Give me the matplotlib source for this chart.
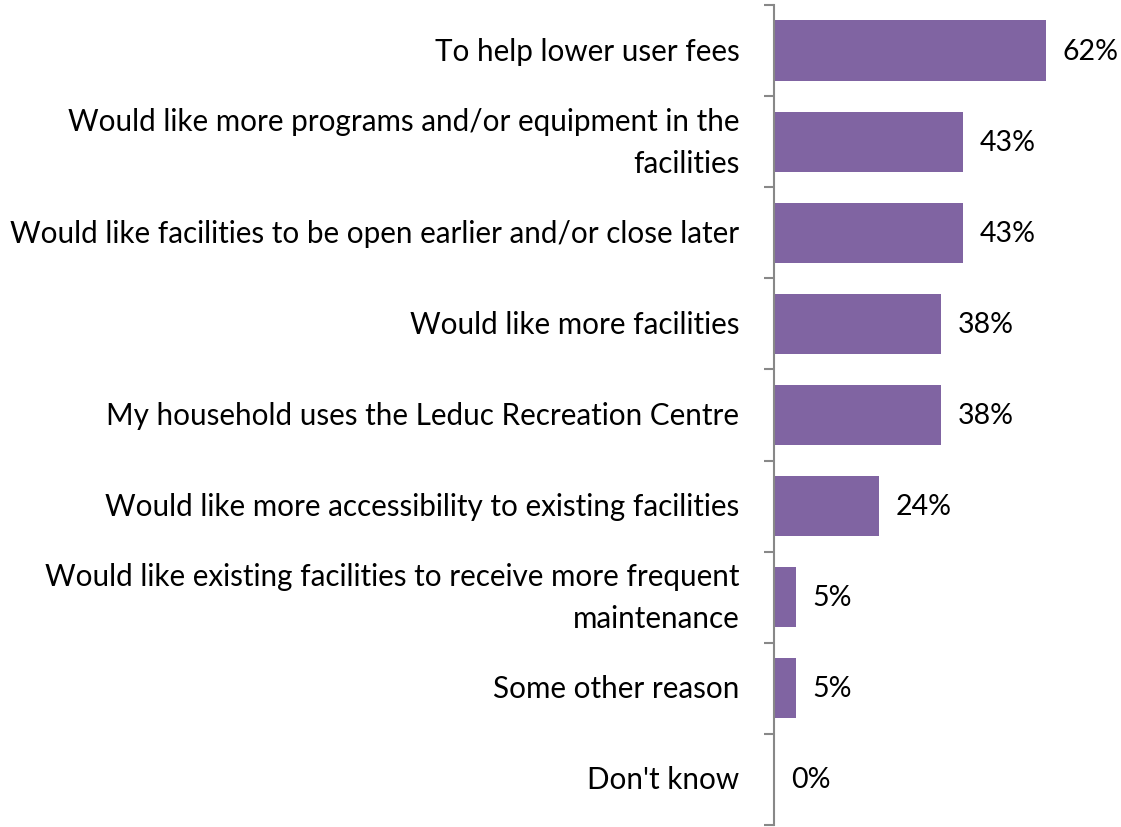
import matplotlib.pyplot as plt
import numpy as np

plt.rcParams['font.family'] = ['Lato', 'DejaVu Sans']

categories = [
    "To help lower user fees",
    "Would like more programs and/or equipment in the\nfacilities",
    "Would like facilities to be open earlier and/or close later",
    "Would like more facilities",
    "My household uses the Leduc Recreation Centre",
    "Would like more accessibility to existing facilities",
    "Would like existing facilities to receive more frequent\nmaintenance",
    "Some other reason",
    "Don't know",
]
values = [62, 43, 43, 38, 38, 24, 5, 5, 0]

fig = plt.figure(figsize=(11.21, 8.28), dpi=100)
ax = fig.add_axes([774 / 1121, 2 / 828, 347 / 1121, 820 / 828])

y = np.arange(len(categories))
ax.barh(y, values, height=0.66, color='#8064A2')
ax.set_ylim(len(categories) - 0.5, -0.5)
ax.set_xlim(0, 79)

for yi, v in zip(y, values):
    ax.annotate(f"{v}%", (v, yi), xytext=(12, 0), textcoords='offset points',
                va='center', ha='left', fontsize=20.5, color='black')

for yi, label in zip(y, categories):
    ax.annotate(label, (0, yi), xycoords=('axes fraction', 'data'),
                xytext=(-25, 0), textcoords='offset points',
                va='center', ha='right', fontsize=21.3, color='black',
                linespacing=1.6)

ax.set_yticks(np.arange(len(categories) + 1) - 0.5)
ax.set_yticklabels([])
ax.tick_params(axis='y', length=7, width=1.5, color='#888888')
ax.set_xticks([])
for side in ['top', 'right', 'bottom']:
    ax.spines[side].set_visible(False)
ax.spines['left'].set_color('#888888')
ax.spines['left'].set_linewidth(1.5)

fig.savefig('out.png', dpi=100)
